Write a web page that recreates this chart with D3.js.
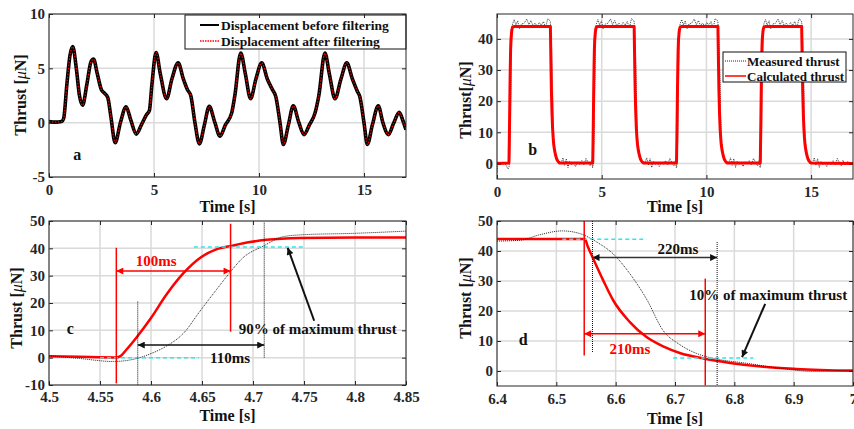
<!DOCTYPE html>
<html>
<head>
<meta charset="utf-8">
<script src="https://cdn.jsdelivr.net/npm/d3@7"></script>
<style>
body { margin: 0; background: #fff; }
text { font-family: "Liberation Serif", "Times New Roman", serif; font-weight: bold; }
.axis text { font-size: 15px; }
.grid line { stroke: #dadada; stroke-width: 1.5; }
.frame { fill: none; stroke: #262626; stroke-width: 1; }
</style>
</head>
<body>
<svg width="854" height="429"></svg>
<script>
var svg = d3.select("svg");

// ---- panel a : displacement (key points)
var dispTime = [0, 0.3, 0.6, 0.7, 0.85, 1.0, 1.13, 1.3, 1.45, 1.6, 1.8, 2.0, 2.12, 2.3, 2.5, 2.65, 2.8, 2.95, 3.15, 3.4, 3.67, 3.9, 4.15, 4.4, 4.65, 4.78, 4.9, 5.1, 5.3, 5.6, 5.85, 6.15, 6.4, 6.6, 6.75, 6.95, 7.16, 7.4, 7.63, 7.9, 8.14, 8.4, 8.7, 8.85, 9.13, 9.35, 9.6, 9.85, 10.13, 10.4, 10.65, 10.8, 11.0, 11.16, 11.4, 11.63, 11.9, 12.14, 12.4, 12.67, 12.85, 13.14, 13.35, 13.62, 13.9, 14.18, 14.45, 14.68, 14.8, 15.0, 15.16, 15.4, 15.68, 15.9, 16.16, 16.4, 16.68, 16.85, 17.0];
var dispValue = [0.1, 0.05, 0.1, 0.4, 3.5, 6.2, 7.0, 5.0, 2.5, 1.6, 3.5, 5.6, 5.85, 4.5, 3.0, 2.7, 2.3, 0.5, -1.85, 0.0, 1.45, 0.2, -1.05, -0.2, 0.75, 1.1, 3.5, 6.45, 4.5, 2.2, 4.0, 5.5, 4.0, 3.0, 2.5, 0.0, -1.95, -0.2, 1.5, 0.0, -1.25, -0.2, 0.9, 2.5, 6.4, 4.5, 2.2, 4.0, 5.5, 4.0, 3.0, 2.4, 0.0, -2.0, -0.2, 1.55, 0.0, -1.1, -0.2, 0.9, 2.5, 6.4, 4.5, 2.2, 4.0, 5.5, 4.0, 2.9, 2.4, 0.0, -2.0, -0.2, 1.55, 0.0, -1.1, -0.1, 0.95, 0.2, -0.65];
var aTicksX = [0, 5, 10, 15], aLabelsX = ["0", "5", "10", "15"];
var aTicksY = [-5, 0, 5, 10], aLabelsY = ["-5", "0", "5", "10"];

// ---- panel b : square-wave thrust
var bRiseEdges = [0.57, 4.57, 8.57, 12.57];
var bFallEdges = [2.55, 6.55, 10.55, 14.55];
var bStartT = [0, 0.05, 0.12, 0.2, 0.28, 0.36, 0.44, 0.52];
var bStartV = [-3, 0.5, -0.5, 0.4, -0.3, 0.2, -0.6, -1.8];
var bHighOffT = [0.25, 0.33, 0.42, 0.5, 0.6, 0.72, 0.85, 0.95, 1.05, 1.15, 1.25, 1.35, 1.45, 1.55, 1.65, 1.75, 1.85];
var bHighV = [46.2, 44.5, 45.8, 43.2, 44.8, 45.0, 46.4, 44.6, 45.9, 44.2, 45.1, 44.0, 45.3, 44.4, 45.6, 43.5, 46.5];
var bLowOffT = [0.52, 0.6, 0.68, 0.76, 0.84, 0.92, 1.0, 1.1, 1.2, 1.3, 1.4, 1.5, 1.6, 1.7, 1.8, 1.9, 1.97];
var bLowV = [0.3, 1.8, -0.6, 1.5, -1.3, 0.7, -0.4, 0.2, -1.0, 0.5, -0.3, 0.9, -0.5, 1.6, 0.3, -0.8, 1.0];
var bEndT = [16.62, 16.75, 16.88, 17];
var bEndV = [-0.5, 0.6, -0.3, 0.2];
var bTicksX = [0, 5, 10, 15], bLabelsX = ["0", "5", "10", "15"];
var bTicksY = [0, 10, 20, 30, 40], bLabelsY = ["0", "10", "20", "30", "40"];

// ---- panel c : rising edge
var cCalcT = [4.5, 4.53, 4.565, 4.57, 4.576, 4.586, 4.6, 4.615, 4.632, 4.648, 4.664, 4.68, 4.697, 4.713, 4.746, 4.8, 4.85];
var cCalcV = [0.5, 0.3, 0.1, 0.6, 3.0, 7.5, 14.5, 23.0, 31.0, 36.5, 39.6, 41.0, 42.3, 43.1, 43.8, 44.0, 44.0];
var cMeasT = [4.5, 4.53, 4.563, 4.575, 4.589, 4.6, 4.615, 4.632, 4.648, 4.664, 4.677, 4.69, 4.71, 4.73, 4.75, 4.8, 4.85];
var cMeasV = [0.7, -0.3, -1.4, -1.1, 0.0, 1.5, 4.2, 9.0, 17.0, 24.8, 31.0, 36.5, 40.8, 44.3, 45.0, 45.5, 46.3];
var cTicksX = [4.5, 4.55, 4.6, 4.65, 4.7, 4.75, 4.8, 4.85];
var cLabelsX = ["4.5", "4.55", "4.6", "4.65", "4.7", "4.75", "4.8", "4.85"];
var cTicksY = [-10, 0, 10, 20, 30, 40, 50];
var cLabelsY = ["-10", "0", "10", "20", "30", "40", "50"];

// ---- panel d : falling edge
var dCalcT = [6.4, 6.5, 6.548, 6.553, 6.562, 6.579, 6.596, 6.624, 6.652, 6.68, 6.708, 6.75, 6.793, 6.849, 6.905, 7.0];
var dCalcV = [44, 44, 44, 41.5, 37.5, 30.2, 23.5, 16.3, 11.3, 8.2, 6.0, 4.1, 2.7, 1.4, 0.7, 0.1];
var dMeasT = [6.4, 6.44, 6.47, 6.51, 6.54, 6.555, 6.568, 6.596, 6.624, 6.652, 6.68, 6.708, 6.737, 6.77, 6.82, 6.877, 6.933, 6.97, 7.0];
var dMeasV = [43.3, 43.6, 45.3, 46.7, 45.8, 44.5, 43.0, 39.0, 32.4, 24.0, 13.5, 8.8, 5.8, 4.0, 2.6, 0.9, -0.1, 0.1, 0.4];
var dTicksX = [6.4, 6.5, 6.6, 6.7, 6.8, 6.9, 7];
var dLabelsX = ["6.4", "6.5", "6.6", "6.7", "6.8", "6.9", "7"];
var dTicksY = [0, 10, 20, 30, 40, 50];
var dLabelsY = ["0", "10", "20", "30", "40", "50"];

var RED = "#ff0000", CYAN = "#2ee6f0", DARK = "#262626";

function zip(ts, vs) { return ts.map(function(t, i) { return [t, vs[i]]; }); }
function pick(ts, vs, from, to, shift) {
    var out = [];
    ts.forEach(function(t, i) { if (t >= from && t <= to) out.push([t + shift, vs[i]]); });
    return out;
}

// arrow heads
var defs = svg.append("defs");
function marker(id, color) {
    defs.append("marker")
        .attr("id", id)
        .attr("viewBox", "0 0 10 10")
        .attr("refX", 10).attr("refY", 5)
        .attr("markerUnits", "userSpaceOnUse")
        .attr("markerWidth", 9).attr("markerHeight", 7)
        .attr("orient", "auto-start-reverse")
      .append("path")
        .attr("d", "M0,0L10,5L0,10z")
        .attr("fill", color);
}
marker("arrRed", RED);
marker("arrBlack", "#111");

var clipId = 0;
function makePanel(p) {
    var x = d3.scaleLinear().domain(p.xDomain).range([p.left, p.right]);
    var y = d3.scaleLinear().domain(p.yDomain).range([p.bottom, p.top]);
    var g = svg.append("g");
    var id = "clip" + (clipId++);
    defs.append("clipPath").attr("id", id).append("rect")
        .attr("x", p.left).attr("y", p.top)
        .attr("width", p.right - p.left).attr("height", p.bottom - p.top);

    var grid = g.append("g").attr("class", "grid");
    grid.selectAll(".gx").data(p.xTicks).enter().append("line")
        .attr("x1", x).attr("x2", x).attr("y1", p.top).attr("y2", p.bottom);
    grid.selectAll(".gy").data(p.yTicks).enter().append("line")
        .attr("y1", y).attr("y2", y).attr("x1", p.left).attr("x2", p.right);

    var plot = g.append("g").attr("clip-path", "url(#" + id + ")");
    var over = g.append("g");

    g.append("g").attr("class", "axis").attr("color", DARK)
        .attr("transform", "translate(0," + p.bottom + ")")
        .call(d3.axisBottom(x).tickValues(p.xTicks).tickFormat(function(d, i) { return p.xLabels[i]; })
            .tickSizeInner(-4).tickSizeOuter(0).tickPadding(p.xPad))
        .call(function(a) { a.select(".domain").remove(); });
    g.append("g").attr("class", "axis").attr("color", DARK)
        .attr("transform", "translate(" + p.left + ",0)")
        .call(d3.axisLeft(y).tickValues(p.yTicks).tickFormat(function(d, i) { return p.yLabels[i]; })
            .tickSizeInner(-4).tickSizeOuter(0).tickPadding(4))
        .call(function(a) { a.select(".domain").remove(); });
    g.append("g").attr("color", DARK)
        .attr("transform", "translate(0," + p.top + ")")
        .call(d3.axisTop(x).tickValues(p.xTicks).tickFormat("").tickSizeInner(-4).tickSizeOuter(0))
        .call(function(a) { a.select(".domain").remove(); });
    g.append("g").attr("color", DARK)
        .attr("transform", "translate(" + p.right + ",0)")
        .call(d3.axisRight(y).tickValues(p.yTicks).tickFormat("").tickSizeInner(-4).tickSizeOuter(0))
        .call(function(a) { a.select(".domain").remove(); });

    g.append("rect").attr("class", "frame")
        .attr("x", p.left).attr("y", p.top)
        .attr("width", p.right - p.left).attr("height", p.bottom - p.top);

    g.append("text")
        .attr("x", (p.left + p.right) / 2).attr("y", p.xTitleY)
        .attr("text-anchor", "middle").attr("font-size", 16).attr("fill", "#111")
        .text("Time [s]");
    var yt = g.append("text")
        .attr("transform", "translate(" + p.yTitleX + "," + p.yTitleY + ") rotate(-90)")
        .attr("text-anchor", "middle").attr("font-size", 16).attr("fill", "#111");
    yt.append("tspan").text(p.yTitleHead);
    yt.append("tspan").attr("font-style", "italic").attr("font-weight", "normal").text("\u03bc");
    yt.append("tspan").text("N]");

    g.append("text")
        .attr("x", x(p.tag[0])).attr("y", y(p.tag[1]))
        .attr("text-anchor", "middle").attr("font-size", 16).attr("fill", "#111")
        .text(p.tag[2]);

    return { x: x, y: y, plot: plot, over: over };
}

function lineGen(P, curve) {
    return d3.line().x(function(d) { return P.x(d[0]); }).y(function(d) { return P.y(d[1]); }).curve(curve || d3.curveLinear);
}
function seg(P, layer, t1, v1, t2, v2, color, width, dash, markers) {
    var l = layer.append("line")
        .attr("x1", P.x(t1)).attr("y1", P.y(v1))
        .attr("x2", P.x(t2)).attr("y2", P.y(v2))
        .attr("stroke", color).attr("stroke-width", width);
    if (dash) l.attr("stroke-dasharray", dash);
    if (markers === "both") l.attr("marker-start", "url(#" + (color === RED ? "arrRed" : "arrBlack") + ")");
    if (markers) l.attr("marker-end", "url(#" + (color === RED ? "arrRed" : "arrBlack") + ")");
    return l;
}
function label(P, layer, t, v, txt, color, anchor) {
    layer.append("text").attr("x", P.x(t)).attr("y", P.y(v))
        .attr("text-anchor", anchor || "middle").attr("font-size", 15).attr("fill", color)
        .text(txt);
}

// ================= panel a
var A = makePanel({
    left: 49, right: 406, top: 14, bottom: 177,
    xDomain: [0, 17], yDomain: [-5, 10],
    xTicks: aTicksX, xLabels: aLabelsX, yTicks: aTicksY, yLabels: aLabelsY,
    xPad: 7, xTitleY: 212, yTitleX: 26, yTitleY: 95, yTitleHead: "Thrust [",
    tag: [1.35, -3.45, "a"]
});
var dispPts = zip(dispTime, dispValue);
A.plot.append("path").attr("d", lineGen(A, d3.curveMonotoneX)(dispPts))
    .attr("fill", "none").attr("stroke", "#000").attr("stroke-width", 3.6);
A.plot.append("path").attr("d", lineGen(A, d3.curveMonotoneX)(dispPts))
    .attr("fill", "none").attr("stroke", RED).attr("stroke-width", 1.2).attr("stroke-dasharray", "1.5,1.5");

var legA = A.over.append("g");
legA.append("rect").attr("x", 185).attr("y", 15).attr("width", 221).attr("height", 34)
    .attr("fill", "#fff").attr("stroke", "#111").attr("stroke-width", 1);
legA.append("line").attr("x1", 200).attr("x2", 219).attr("y1", 25).attr("y2", 25)
    .attr("stroke", "#000").attr("stroke-width", 2);
legA.append("line").attr("x1", 200).attr("x2", 219).attr("y1", 41).attr("y2", 41)
    .attr("stroke", RED).attr("stroke-width", 1.5).attr("stroke-dasharray", "1.5,1");
legA.append("text").attr("x", 221).attr("y", 29.5).attr("font-size", 13.5).attr("fill", "#111").text("Displacement before filtering");
legA.append("text").attr("x", 221).attr("y", 45.5).attr("font-size", 13.5).attr("fill", "#111").text("Displacement after filtering");

// ================= panel b
var B = makePanel({
    left: 497, right: 853, top: 14, bottom: 179,
    xDomain: [0, 17], yDomain: [-5, 48],
    xTicks: bTicksX, xLabels: bLabelsX, yTicks: bTicksY, yLabels: bLabelsY,
    xPad: 7, xTitleY: 212, yTitleX: 471, yTitleY: 100, yTitleHead: "Thrust[",
    tag: [1.71, 2.6, "b"]
});
var bCalc = [[0, 0]];
var bMeas = zip(bStartT, bStartV);
bRiseEdges.forEach(function(up, i) {
    var down = bFallEdges[i];
    bCalc = bCalc.concat(pick(cCalcT, cCalcV, 4.56, 4.85, up - 4.568));
    bCalc = bCalc.concat(pick(dCalcT, dCalcV, 6.5, 7.0, down - 6.548));
    bMeas = bMeas.concat(pick(cMeasT, cMeasV, 4.563, 4.75, up - 4.568));
    bMeas = bMeas.concat(bHighOffT.map(function(o, j) { return [up + o, bHighV[j]]; }));
    bMeas = bMeas.concat(pick(dMeasT, dMeasV, 6.54, 7.0, down - 6.548));
    bMeas = bMeas.concat(bLowOffT.map(function(o, j) { return [down + o, bLowV[j]]; }));
});
bCalc.push([17, 0]);
bMeas = bMeas.concat(zip(bEndT, bEndV));
B.plot.append("path").attr("d", lineGen(B)(bMeas))
    .attr("fill", "none").attr("stroke", "#222").attr("stroke-width", 0.9).attr("stroke-dasharray", "1,1");
B.plot.append("path").attr("d", lineGen(B)(bCalc))
    .attr("fill", "none").attr("stroke", RED).attr("stroke-width", 3).attr("stroke-linejoin", "round");

var legB = B.over.append("g");
legB.append("rect").attr("x", 723).attr("y", 52).attr("width", 123).attr("height", 30)
    .attr("fill", "#fff").attr("stroke", "#111").attr("stroke-width", 1);
legB.append("line").attr("x1", 725).attr("x2", 746).attr("y1", 61).attr("y2", 61)
    .attr("stroke", "#222").attr("stroke-width", 1).attr("stroke-dasharray", "1,1");
legB.append("line").attr("x1", 725).attr("x2", 746).attr("y1", 76).attr("y2", 76)
    .attr("stroke", RED).attr("stroke-width", 1.5);
legB.append("text").attr("x", 747).attr("y", 65.5).attr("font-size", 13).attr("fill", "#111").text("Measured thrust");
legB.append("text").attr("x", 747).attr("y", 80.5).attr("font-size", 13).attr("fill", "#111").text("Calculated thrust");

// ================= panel c
var C = makePanel({
    left: 49, right: 406, top: 221, bottom: 385,
    xDomain: [4.5, 4.85], yDomain: [-10, 50],
    xTicks: cTicksX, xLabels: cLabelsX, yTicks: cTicksY, yLabels: cLabelsY,
    xPad: 6, xTitleY: 421, yTitleX: 22, yTitleY: 308, yTitleHead: "Thrust [",
    tag: [4.521, 8.7, "c"]
});
C.plot.append("path").attr("d", lineGen(C, d3.curveMonotoneX)(zip(cCalcT, cCalcV)))
    .attr("fill", "none").attr("stroke", RED).attr("stroke-width", 2.5);
C.plot.append("path").attr("d", lineGen(C, d3.curveMonotoneX)(zip(cMeasT, cMeasV)))
    .attr("fill", "none").attr("stroke", "#222").attr("stroke-width", 1).attr("stroke-dasharray", "1,1");
seg(C, C.over, 4.55, 0, 4.647, 0, CYAN, 1.5, "4,3");
seg(C, C.over, 4.642, 40.5, 4.75, 40.5, CYAN, 1.5, "4,3");
seg(C, C.over, 4.566, 40.2, 4.566, -9.4, RED, 1.5);
seg(C, C.over, 4.678, 49, 4.678, 9.5, RED, 1.5);
seg(C, C.over, 4.566, 31.7, 4.678, 31.7, RED, 1.5, null, "both");
seg(C, C.over, 4.587, 20.5, 4.587, -10, "#111", 1, "1,1");
seg(C, C.over, 4.711, 49.4, 4.711, 0, "#111", 1, "1,1");
seg(C, C.over, 4.587, 4.6, 4.711, 4.6, "#111", 1.5, null, "both");
seg(C, C.over, 4.760, 13.5, 4.734, 40.2, "#111", 2, null, "end");
label(C, C.over, 4.605, 33.5, "100ms", RED);
label(C, C.over, 4.6775, -1.8, "110ms", "#111");
label(C, C.over, 4.686, 8.7, "90% of maximum thrust", "#111", "start");

// ================= panel d
var D = makePanel({
    left: 497, right: 853, top: 221, bottom: 386,
    xDomain: [6.4, 7], yDomain: [-5, 50],
    xTicks: dTicksX, xLabels: dLabelsX, yTicks: dTicksY, yLabels: dLabelsY,
    xPad: 7, xTitleY: 424, yTitleX: 471, yTitleY: 298, yTitleHead: "Thrust [",
    tag: [6.444, 8.6, "d"]
});
D.plot.append("path").attr("d", lineGen(D, d3.curveMonotoneX)(zip(dCalcT, dCalcV)))
    .attr("fill", "none").attr("stroke", RED).attr("stroke-width", 2.5);
D.plot.append("path").attr("d", lineGen(D, d3.curveMonotoneX)(zip(dMeasT, dMeasV)))
    .attr("fill", "none").attr("stroke", "#222").attr("stroke-width", 1).attr("stroke-dasharray", "1,1");
seg(D, D.over, 6.51, 43.9, 6.652, 43.9, CYAN, 1.5, "4,3");
seg(D, D.over, 6.697, 4.3, 6.832, 4.3, CYAN, 1.5, "4,3");
seg(D, D.over, 6.547, 50, 6.547, 5.2, RED, 1.5);
seg(D, D.over, 6.751, 30.8, 6.751, -4.8, RED, 1.5);
seg(D, D.over, 6.547, 12.4, 6.751, 12.4, RED, 1.5, null, "both");
seg(D, D.over, 6.561, 50, 6.561, 6.3, "#111", 1, "1,1");
seg(D, D.over, 6.771, 43, 6.771, -4.8, "#111", 1, "1,1");
seg(D, D.over, 6.561, 37.8, 6.771, 37.8, "#333", 1.5, null, "both");
seg(D, D.over, 6.852, 22.4, 6.813, 4.6, "#111", 2, null, "end");
label(D, D.over, 6.624, 5.8, "210ms", RED);
label(D, D.over, 6.705, 39.1, "220ms", "#111");
label(D, D.over, 6.724, 23.8, "10% of maximum thrust", "#111", "start");
</script>
</body>
</html>
